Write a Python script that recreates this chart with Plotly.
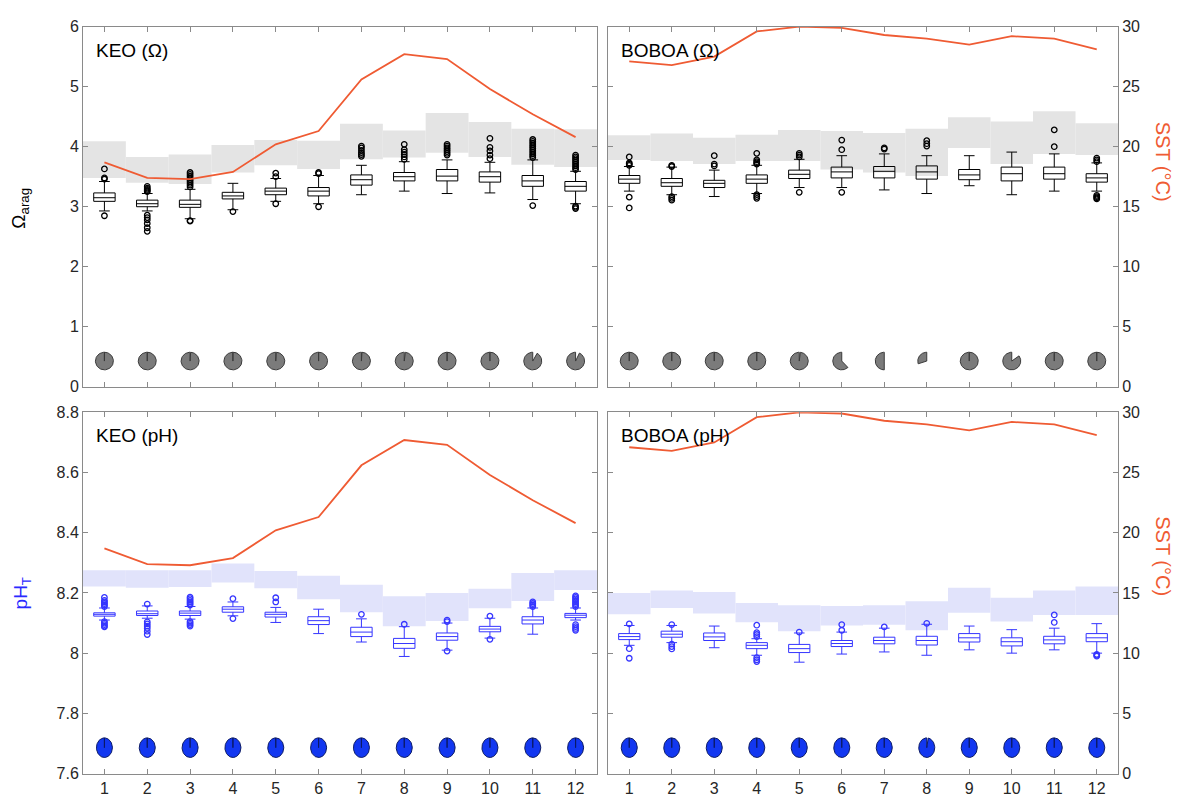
import numpy as np
import plotly.graph_objects as go

# ---------------- data ----------------
months = list(range(1, 13))
month_labels = [str(m) for m in months]

sst_keo = [18.7, 17.4, 17.3, 17.9, 20.2, 21.3, 25.6, 27.7, 27.3, 24.8, 22.7, 20.8]
sst_boboa = [27.1, 26.8, 27.5, 29.6, 30.0, 29.9, 29.3, 29.0, 28.5, 29.2, 29.0, 28.1]

# KEO Omega_arag boxes
keo_om_lf = [2.93, 2.93, 2.80, 2.95, 3.09, 3.05, 3.20, 3.26, 3.22, 3.23, 3.12, 3.05]
keo_om_q1 = [3.09, 3.00, 2.99, 3.13, 3.20, 3.18, 3.36, 3.43, 3.43, 3.41, 3.34, 3.26]
keo_om_med = [3.15, 3.05, 3.04, 3.18, 3.26, 3.26, 3.45, 3.50, 3.51, 3.50, 3.43, 3.34]
keo_om_q3 = [3.23, 3.11, 3.11, 3.24, 3.31, 3.32, 3.53, 3.57, 3.62, 3.58, 3.52, 3.42]
keo_om_uf = [3.42, 3.22, 3.29, 3.39, 3.47, 3.52, 3.69, 3.75, 3.78, 3.74, 3.78, 3.59]
keo_om_out = [
    [3.46, 3.48, 3.63, 2.85],
    [3.25, 3.27, 3.29, 3.31, 3.34, 2.86, 2.82, 2.78, 2.72, 2.65, 2.59],
    [3.33, 3.36, 3.39, 3.42, 3.45, 3.48, 3.51, 3.54, 3.57, 2.77, 2.76],
    [2.92],
    [3.50, 3.56, 3.05],
    [3.55, 3.57, 3.00],
    [3.84, 3.87, 3.90, 3.94, 3.98, 4.01],
    [3.79, 3.83, 3.87, 3.91, 3.95, 4.04],
    [3.86, 3.89, 3.92, 3.95, 3.98, 4.01, 4.04],
    [3.80, 3.86, 3.93, 3.99, 4.14],
    [3.82, 3.85, 3.88, 3.91, 3.94, 3.97, 4.00, 4.03, 4.06, 4.09, 4.12, 3.02],
    [3.62, 3.65, 3.68, 3.71, 3.74, 3.77, 3.80, 3.83, 3.86, 3.01, 2.99, 2.97],
]
keo_om_band_hi = [4.09, 3.83, 3.87, 4.03, 4.11, 4.10, 4.38, 4.27, 4.56, 4.41, 4.30, 4.29]
keo_om_band_lo = [3.48, 3.40, 3.38, 3.57, 3.69, 3.63, 3.79, 3.82, 3.90, 3.83, 3.70, 3.66]
keo_om_cover = [1, 1, 0.99, 1, 0.99, 1, 0.99, 0.98, 1, 1, 0.92, 0.93]

# BOBOA Omega_arag boxes
bob_om_lf = [3.26, 3.20, 3.17, 3.22, 3.32, 3.32, 3.28, 3.22, 3.35, 3.20, 3.26, 3.26]
bob_om_q1 = [3.39, 3.34, 3.32, 3.39, 3.47, 3.48, 3.48, 3.46, 3.45, 3.43, 3.46, 3.41]
bob_om_med = [3.46, 3.40, 3.39, 3.46, 3.54, 3.58, 3.59, 3.58, 3.53, 3.55, 3.55, 3.48]
bob_om_q3 = [3.52, 3.47, 3.44, 3.53, 3.61, 3.66, 3.67, 3.68, 3.62, 3.66, 3.66, 3.55]
bob_om_uf = [3.67, 3.66, 3.61, 3.69, 3.79, 3.85, 3.88, 3.85, 3.85, 3.91, 3.88, 3.73]
bob_om_out = [
    [3.69, 3.71, 3.73, 3.83, 3.16, 2.98],
    [3.67, 3.69, 3.17, 3.14, 3.11],
    [3.68, 3.71, 3.85],
    [3.71, 3.73, 3.75, 3.78, 3.89, 3.20, 3.17, 3.14],
    [3.83, 3.86, 3.89, 3.24],
    [3.95, 4.11, 3.24],
    [3.96, 3.98],
    [4.01, 4.05, 4.10],
    [],
    [],
    [4.00, 4.28],
    [3.75, 3.78, 3.81, 3.19, 3.17, 3.15, 3.13],
]
bob_om_band_hi = [4.19, 4.22, 4.15, 4.20, 4.28, 4.26, 4.23, 4.30, 4.49, 4.42, 4.59, 4.39]
bob_om_band_lo = [3.78, 3.76, 3.71, 3.76, 3.76, 3.62, 3.57, 3.51, 3.98, 3.71, 3.88, 3.86]
bob_om_cover = [1, 1, 1, 1, 0.98, 0.62, 0.5, 0.3, 1, 0.85, 1, 1]

# KEO pH boxes
keo_ph_lf = [8.110, 8.116, 8.113, 8.124, 8.102, 8.065, 8.037, 7.989, 8.010, 8.050, 8.063, 8.110]
keo_ph_q1 = [8.123, 8.125, 8.125, 8.136, 8.120, 8.095, 8.055, 8.016, 8.043, 8.071, 8.097, 8.118]
keo_ph_med = [8.129, 8.131, 8.133, 8.146, 8.129, 8.108, 8.070, 8.032, 8.055, 8.080, 8.110, 8.126]
keo_ph_q3 = [8.134, 8.140, 8.140, 8.154, 8.136, 8.121, 8.086, 8.049, 8.067, 8.089, 8.121, 8.132]
keo_ph_uf = [8.150, 8.157, 8.155, 8.170, 8.152, 8.146, 8.114, 8.088, 8.100, 8.116, 8.150, 8.150]
keo_ph_out = [
    [8.155, 8.160, 8.165, 8.170, 8.175, 8.185, 8.105, 8.100, 8.095, 8.090, 8.087],
    [8.163, 8.104, 8.097, 8.090, 8.083, 8.073, 8.062],
    [8.160, 8.165, 8.170, 8.175, 8.181, 8.186, 8.105, 8.100, 8.095, 8.090],
    [8.181, 8.115],
    [8.170, 8.184],
    [],
    [8.129],
    [8.096],
    [8.105, 8.110, 8.007],
    [8.123, 8.046],
    [8.155, 8.160, 8.165, 8.170],
    [8.155, 8.160, 8.165, 8.170, 8.175, 8.180, 8.185, 8.190, 8.095, 8.088, 8.082, 8.076],
]
keo_ph_band_hi = [8.275, 8.275, 8.275, 8.298, 8.273, 8.257, 8.227, 8.189, 8.200, 8.214, 8.266, 8.275]
keo_ph_band_lo = [8.221, 8.217, 8.220, 8.235, 8.216, 8.179, 8.136, 8.089, 8.107, 8.149, 8.173, 8.210]
keo_ph_cover = [1, 1, 1, 1, 1, 1, 1, 1, 1, 1, 1, 1]

# BOBOA pH boxes
bob_ph_lf = [8.026, 8.035, 8.018, 7.993, 7.970, 7.997, 8.004, 7.993, 8.011, 8.000, 8.011, 8.000]
bob_ph_q1 = [8.045, 8.053, 8.042, 8.015, 8.002, 8.022, 8.031, 8.027, 8.037, 8.024, 8.031, 8.038]
bob_ph_med = [8.055, 8.063, 8.054, 8.026, 8.015, 8.032, 8.042, 8.042, 8.051, 8.038, 8.044, 8.051]
bob_ph_q3 = [8.065, 8.073, 8.067, 8.035, 8.029, 8.042, 8.053, 8.056, 8.065, 8.051, 8.056, 8.065]
bob_ph_uf = [8.092, 8.092, 8.090, 8.048, 8.067, 8.070, 8.083, 8.096, 8.090, 8.078, 8.083, 8.098]
bob_ph_out = [
    [8.097, 8.015, 7.983],
    [8.095, 8.030, 8.022, 8.014],
    [],
    [8.055, 8.062, 8.068, 8.093, 7.985, 7.978, 7.972],
    [8.070],
    [8.076, 8.095],
    [8.087],
    [8.099],
    [],
    [],
    [8.102, 8.127],
    [7.996, 7.993, 7.990],
]
bob_ph_band_hi = [8.200, 8.208, 8.203, 8.167, 8.159, 8.157, 8.159, 8.172, 8.217, 8.184, 8.208, 8.221]
bob_ph_band_lo = [8.129, 8.150, 8.132, 8.103, 8.073, 8.092, 8.094, 8.076, 8.134, 8.105, 8.127, 8.127]
bob_ph_cover = [1, 1, 1, 1, 1, 1, 1, 0.97, 1, 1, 1, 1]

om_ticks = [0, 1, 2, 3, 4, 5, 6]
ph_ticks = [7.6, 7.8, 8.0, 8.2, 8.4, 8.6, 8.8]
ph_ticktext = ["7.6", "7.8", "8", "8.2", "8.4", "8.6", "8.8"]
sst_ticks = [0, 5, 10, 15, 20, 25, 30]

# ---------------- styling / layout ----------------
W, H = 1178, 809
FONT = "Liberation Sans, Arial, sans-serif"
AX_COL = "#8a8a8a"
TXT_COL = "#262626"
SST_COL = "#EF5B33"
BLUE = "#3535FF"

x_left = [83 / W, 597 / W]
x_right = [608 / W, 1118 / W]
y_top = [1 - 387 / H, 1 - 19 / H]
y_bot = [1 - 782 / H, 1 - 413 / H]

PIE_LEVEL = 2.15  # on SST axis

fig = go.Figure()

panels = [
    dict(x="x", y="y", ys="y5", dom_x=x_left, dom_y=y_top, title="KEO (Ω)",
         stats=(keo_om_lf, keo_om_q1, keo_om_med, keo_om_q3, keo_om_uf), out=keo_om_out,
         band=(keo_om_band_lo, keo_om_band_hi), cover=keo_om_cover, sst=sst_keo,
         kind="om"),
    dict(x="x2", y="y2", ys="y6", dom_x=x_right, dom_y=y_top, title="BOBOA (Ω)",
         stats=(bob_om_lf, bob_om_q1, bob_om_med, bob_om_q3, bob_om_uf), out=bob_om_out,
         band=(bob_om_band_lo, bob_om_band_hi), cover=bob_om_cover, sst=sst_boboa,
         kind="om"),
    dict(x="x3", y="y3", ys="y7", dom_x=x_left, dom_y=y_bot, title="KEO (pH)",
         stats=(keo_ph_lf, keo_ph_q1, keo_ph_med, keo_ph_q3, keo_ph_uf), out=keo_ph_out,
         band=(keo_ph_band_lo, keo_ph_band_hi), cover=keo_ph_cover, sst=sst_keo,
         kind="ph"),
    dict(x="x4", y="y4", ys="y8", dom_x=x_right, dom_y=y_bot, title="BOBOA (pH)",
         stats=(bob_ph_lf, bob_ph_q1, bob_ph_med, bob_ph_q3, bob_ph_uf), out=bob_ph_out,
         band=(bob_ph_band_lo, bob_ph_band_hi), cover=bob_ph_cover, sst=sst_boboa,
         kind="ph"),
]


def pie_path(cx, cy, frac, rx, ry, n=72):
    theta = np.linspace(np.pi / 2, np.pi / 2 + 2 * np.pi * frac, n)
    xs = [cx] + list(cx + rx * np.cos(theta)) + [cx, None]
    ys = [cy] + list(cy + ry * np.sin(theta)) + [cy, None]
    return xs, ys


for p in panels:
    is_om = p["kind"] == "om"
    line_col = "black" if is_om else BLUE
    band_col = "#e4e4e4" if is_om else "#e1e3fb"

    # step band (as floating bars so it sits beneath the boxes)
    lo, hi = p["band"]
    fig.add_trace(go.Bar(x=months, y=[h - l for h, l in zip(hi, lo)], base=lo,
                         width=1.0, xaxis=p["x"], yaxis=p["y"],
                         marker=dict(color=band_col, line=dict(width=0)),
                         hoverinfo="skip", showlegend=False))

    # boxes
    lf, q1, med, q3, uf = p["stats"]
    fig.add_trace(go.Box(x=months, q1=q1, median=med, q3=q3, lowerfence=lf, upperfence=uf,
                         xaxis=p["x"], yaxis=p["y"], width=0.5, whiskerwidth=0.5,
                         boxpoints=False, fillcolor="rgba(255,255,255,0)",
                         line=dict(color=line_col, width=1), showlegend=False))

    # outliers
    ox, oy = [], []
    for m, vals in zip(months, p["out"]):
        ox += [m] * len(vals)
        oy += vals
    fig.add_trace(go.Scatter(x=ox, y=oy, xaxis=p["x"], yaxis=p["y"], mode="markers",
                             marker=dict(symbol="circle-open", size=5.5, color=line_col,
                                         line=dict(width=1.3, color=line_col)),
                             showlegend=False, hoverinfo="skip"))

    # SST line
    fig.add_trace(go.Scatter(x=months, y=p["sst"], xaxis=p["x"], yaxis=p["ys"], mode="lines",
                             line=dict(color=SST_COL, width=1.8), showlegend=False))

    # pies (data coverage)
    px_per_month = (p["dom_x"][1] - p["dom_x"][0]) * W / 12.0
    px_per_sst = (p["dom_y"][1] - p["dom_y"][0]) * H / 30.0
    if is_om:
        rx, ry = 9.0 / px_per_month, 9.0 / px_per_sst
        pie_fill, pie_edge = "#7b7b7b", "#3a3a3a"
    else:
        rx, ry = 8.0 / px_per_month, 10.0 / px_per_sst
        pie_fill, pie_edge = "#1237F0", "#0b1a66"
    px_, py_ = [], []
    for m, f in zip(months, p["cover"]):
        xs, ys = pie_path(m, PIE_LEVEL, f, rx, ry)
        px_ += xs
        py_ += ys
    fig.add_trace(go.Scatter(x=px_, y=py_, xaxis=p["x"], yaxis=p["ys"], mode="lines",
                             fill="toself", fillcolor=pie_fill,
                             line=dict(color=pie_edge, width=1), showlegend=False,
                             hoverinfo="skip"))

axis_common = dict(showgrid=False, zeroline=False, showline=True, linecolor=AX_COL,
                   linewidth=1, ticks="inside", ticklen=5, tickcolor=AX_COL, tickwidth=1,
                   tickfont=dict(family=FONT, size=16, color=TXT_COL))

layout = dict(width=W, height=H, margin=dict(l=0, r=0, t=0, b=0),
              paper_bgcolor="white", plot_bgcolor="white", showlegend=False,
              barmode="overlay", boxmode="overlay")

for i, p in enumerate(panels, start=1):
    sx = "" if i == 1 else str(i)
    bottom = i >= 3
    right = i in (2, 4)
    is_om = p["kind"] == "om"
    layout["xaxis" + sx] = dict(axis_common, domain=p["dom_x"], anchor="y" + sx,
                                range=[0.5, 12.5], tickvals=months, ticktext=month_labels,
                                showticklabels=bottom, mirror="ticks")
    yax = dict(axis_common, domain=p["dom_y"], anchor="x" + sx,
               range=[0, 6] if is_om else [7.6, 8.8],
               tickvals=om_ticks if is_om else ph_ticks,
               ticktext=[str(t) for t in om_ticks] if is_om else ph_ticktext,
               showticklabels=not right, mirror=(False if right else "ticks"))
    layout["yaxis" + sx] = yax
    layout["yaxis" + str(i + 4)] = dict(axis_common, overlaying="y" + sx, anchor="x" + sx,
                                        side="right", range=[0, 30], tickvals=sst_ticks,
                                        visible=right)

fig.update_layout(**layout)

# panel titles
for i, p in enumerate(panels, start=1):
    sx = "" if i == 1 else str(i)
    fig.add_annotation(text=p["title"], xref="x" + sx + " domain", yref="y" + sx + " domain",
                       x=0.022, y=0.935, xanchor="left", yanchor="middle", showarrow=False,
                       font=dict(family=FONT, size=19, color="black"))

# axis titles
fig.add_annotation(text="Ω<sub>arag</sub>", xref="paper", yref="paper", x=20 / W, y=1 - 205 / H,
                   textangle=-90, showarrow=False, xanchor="center", yanchor="middle",
                   font=dict(family=FONT, size=19, color="black"))
fig.add_annotation(text="pH<sub>T</sub>", xref="paper", yref="paper", x=22 / W, y=1 - 598 / H,
                   textangle=-90, showarrow=False, xanchor="center", yanchor="middle",
                   font=dict(family=FONT, size=19, color="#2a2aff"))
for yc in (157, 560):
    fig.add_annotation(text="SST (°C)", xref="paper", yref="paper", x=1163 / W, y=1 - yc / H,
                       textangle=90, showarrow=False, xanchor="center", yanchor="middle",
                       font=dict(family=FONT, size=20, color=SST_COL))

fig.write_html("out.html")
